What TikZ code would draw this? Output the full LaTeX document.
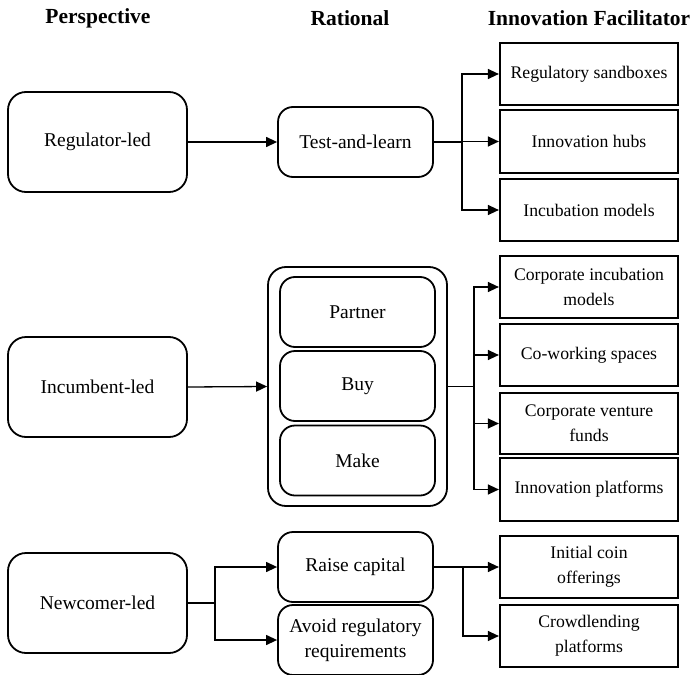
\documentclass[tikz,border=0pt]{standalone}
\usepackage{fontspec}
\setmainfont{Liberation Serif}
\usetikzlibrary{arrows.meta}
\begin{document}
\begin{tikzpicture}[x=1pt,y=-1pt,
  header/.style={font=\bfseries\fontsize{21.5}{24}\selectfont, inner sep=0pt},
  rbox/.style={draw, line width=1.8pt, rounded corners=15pt, align=center, inner sep=0pt,
    font=\fontsize{19.5}{25}\selectfont, minimum width=155pt, minimum height=70pt},
  pbox/.style={rbox, rounded corners=18pt, minimum width=179pt, minimum height=100pt},
  fbox/.style={draw, line width=2.2pt, align=center, inner sep=0pt,
    font=\fontsize{17.7}{25}\selectfont, minimum width=178pt, minimum height=62pt},
  outerbox/.style={draw, line width=1.8pt, rounded corners=18pt, inner sep=0pt,
    minimum width=179pt, minimum height=239pt},
  conn/.style={line width=1.3pt, -{Triangle[length=11pt,width=10pt]}}
]
\useasboundingbox (0,0) rectangle (690,674);
% headers
\node[header] (h1) at (98,18) {Perspective};
\node[header] (h2) at (350,18) {Rational};
\node[header] (h3) at (589,18) {Innovation Facilitator};
% regulator row
\node[pbox] (reg) at (97.5,142) {Regulator-led};
\node[rbox] (test) at (355.5,142) {Test-and-learn};
\node[fbox] (sand) at (589,74) {Regulatory sandboxes};
\node[fbox, minimum height=63pt] (hubs) at (589,141.5) {Innovation hubs};
\node[fbox] (incub) at (589,210) {Incubation models};
% incumbent row
\node[pbox] (inc) at (97.5,387) {Incumbent-led};
\node[outerbox] (outer) at (357.5,386.5) {};
\node[rbox] (partner) at (357.5,312) {Partner};
\node[rbox] (buy) at (357.5,386) {Buy};
\node[rbox] (make) at (357.5,460.5) {Make};
\node[fbox] (cinc) at (589,287) {Corporate incubation\\models};
\node[fbox] (cowork) at (589,355) {Co-working spaces};
\node[fbox, minimum height=61pt] (cvf) at (589,423.5) {Corporate venture\\funds};
\node[fbox, minimum height=63pt] (iplat) at (589,489.5) {Innovation platforms};
% newcomer row
\node[pbox] (new) at (97.5,603) {Newcomer-led};
\node[rbox] (raise) at (355.5,567) {Raise capital};
\node[rbox] (avoid) at (355.5,640) {Avoid regulatory\\requirements};
\node[fbox] (ico) at (589,567) {Initial coin\\offerings};
\node[fbox] (crowd) at (589,636) {Crowdlending\\platforms};
% connectors
\draw[conn] (reg.east) -- (test.west);
\draw[conn] (test.east) -- ++(28,0) |- (sand.west);
\draw[conn] (test.east) -- ++(28,0) |- (hubs.west);
\draw[conn] (test.east) -- ++(28,0) |- (incub.west);
\draw[conn] (inc.east) -- (outer.west);
\draw[conn] (outer.east) -- ++(26,0) |- (cinc.west);
\draw[conn] (outer.east) -- ++(26,0) |- (cowork.west);
\draw[conn] (outer.east) -- ++(26,0) |- (cvf.west);
\draw[conn] (outer.east) -- ++(26,0) |- (iplat.west);
\draw[conn] (new.east) -- ++(27,0) |- (raise.west);
\draw[conn] (new.east) -- ++(27,0) |- (avoid.west);
\draw[conn] (raise.east) -- ++(29,0) |- (ico.west);
\draw[conn] (raise.east) -- ++(29,0) |- (crowd.west);
\end{tikzpicture}
\end{document}
